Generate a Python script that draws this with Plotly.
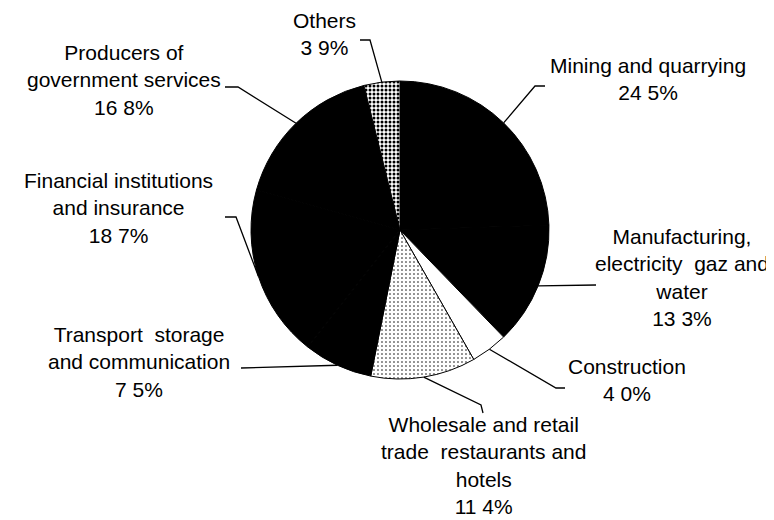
import math
import plotly.graph_objects as go

# ---- data ----
sectors = [
    "Mining and quarrying",
    "Manufacturing, electricity gaz and water",
    "Construction",
    "Wholesale and retail trade restaurants and hotels",
    "Transport storage and communication",
    "Financial institutions and insurance",
    "Producers of government services",
    "Others",
]
shares = [24.5, 13.3, 4.0, 11.4, 7.5, 18.7, 16.8, 3.9]
label_texts = [
    "Mining and quarrying<br>24 5%",
    "Manufacturing,<br>electricity  gaz and<br>water<br>13 3%",
    "Construction<br>4 0%",
    "Wholesale and retail<br>trade  restaurants and<br>hotels<br>11 4%",
    "Transport  storage<br>and communication<br>7 5%",
    "Financial institutions<br>and insurance<br>18 7%",
    "Producers of<br>government services<br>16 8%",
    "Others<br>3 9%",
]

# ---- styling ----
W, H = 774, 520
CX, CY, R = 392, 222, 149
fill_colors = ["#000000", "#000000", "#ffffff", "#ffffff", "#000000", "#000000", "#000000", "#ffffff"]
pattern_shapes = ["", "", "", ".", "", "", "", "."]
pattern_solidity = [0.3, 0.3, 0.3, 0.12, 0.3, 0.3, 0.3, 0.45]
# label block centres and leader anchor/elbow points (pixels)
label_pos = [(640, 71), (674, 269), (619, 372), (475, 457), (131, 354), (110, 200), (116, 72), (316, 26)]
leader_pts = [
    [(537, 78), (527, 78)],
    [(588, 277)],
    [(557, 380), (548, 380)],
    [(475, 405), (473, 397)],
    [(233, 360)],
    [(217, 209), (228, 209)],
    [(217, 79), (230, 79)],
    [(352, 32), (362, 32)],
]


def px(x):
    return x / W


def py(y):
    return 1 - y / H


fig = go.Figure(
    go.Pie(
        labels=sectors,
        values=shares,
        sort=False,
        direction="clockwise",
        rotation=0,
        textinfo="none",
        hoverinfo="label+percent",
        marker=dict(
            colors=fill_colors,
            line=dict(color="#000000", width=1),
            pattern=dict(
                shape=pattern_shapes,
                fgcolor="#000000",
                bgcolor=fill_colors,
                solidity=pattern_solidity,
                size=4,
            ),
        ),
        domain=dict(x=[px(CX - R), px(CX + R)], y=[py(CY + R), py(CY - R)]),
        showlegend=False,
    )
)

total = sum(shares)
cum = 0.0
shapes = []
annotations = []
for i, v in enumerate(shares):
    mid = (cum + v / 2) / total * 2 * math.pi
    cum += v
    rx = CX + R * math.sin(mid)
    ry = CY - R * math.cos(mid)
    pts = leader_pts[i] + [(rx, ry)]
    path = "M " + " L ".join(f"{px(x):.5f},{py(y):.5f}" for x, y in pts)
    shapes.append(dict(type="path", xref="paper", yref="paper", path=path,
                       line=dict(color="#000000", width=1.3)))
    lx, ly = label_pos[i]
    annotations.append(dict(x=px(lx), y=py(ly), xref="paper", yref="paper",
                            text=label_texts[i], showarrow=False,
                            xanchor="center", yanchor="middle", align="center",
                            font=dict(family="Liberation Sans, Arial, sans-serif",
                                      size=21, color="#000000")))

fig.update_layout(
    width=W, height=H,
    margin=dict(l=0, r=0, t=0, b=0),
    paper_bgcolor="#ffffff",
    plot_bgcolor="#ffffff",
    shapes=shapes,
    annotations=annotations,
)

fig.write_html("out.html")
